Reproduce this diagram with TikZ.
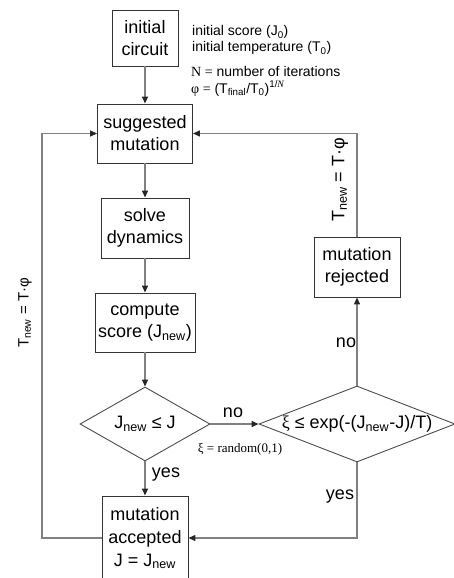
\documentclass[tikz,border=0pt]{standalone}
\usepackage{fontspec}
\setmainfont{Liberation Serif}
\setsansfont{Liberation Sans}
\usetikzlibrary{arrows.meta,shapes.geometric}

\begin{document}
\begin{tikzpicture}[x=1pt,y=-1pt,>={Triangle[length=7pt,width=6pt,color=black!85]},
  box/.style={draw=black!80,line width=0.9pt,rectangle,align=center,inner sep=0pt,font=\sffamily\fontsize{18}{22}\selectfont},
  choice/.style={draw=black!70,line width=0.9pt,diamond,inner sep=0pt,font=\sffamily\fontsize{18}{22}\selectfont},
  link/.style={draw=black!50,line width=1.3pt},
  lbl/.style={font=\sffamily\fontsize{18}{22}\selectfont,inner sep=0pt},
  note/.style={font=\sffamily\fontsize{14}{16}\selectfont,anchor=base west,inner sep=0pt}]
\useasboundingbox (0,0) rectangle (454,578);
\clip (0,0) rectangle (454,578);
\node[box,minimum width=66pt,minimum height=56pt] (init) at (145,38) {initial\\circuit};
\node[box,minimum width=95pt,minimum height=59pt] (sugg) at (145,133.5) {suggested\\mutation};
\node[box,minimum width=88pt,minimum height=60pt] (solve) at (145,228) {solve\\dynamics};
\node[box,minimum width=100pt,minimum height=59pt] (comp) at (145,322.5) {compute\\score (J\textsubscript{new})};
\node[choice,minimum width=130pt,minimum height=74pt,aspect=1.76] (dec1) at (145,424) {J\textsubscript{new} ≤ J};
\node[choice,minimum width=196pt,minimum height=76pt,aspect=2.6] (dec2) at (357,424) {{\rmfamily ξ} ≤ exp(-(J\textsubscript{new}-J)/T)};
\node[box,minimum width=86pt,minimum height=60pt] (rej) at (357,267) {mutation\\rejected};
\node[box,minimum width=86pt,minimum height=84pt,font=\sffamily\fontsize{18}{23}\selectfont] (acc) at (145,538) {mutation\\accepted\\J = J\textsubscript{new}};
\node[note] (n1) at (192,36) {initial score (J\textsubscript{0})};
\node[note] (n2) at (192,52) {initial temperature (T\textsubscript{0})};
\node[note] (n3) at (191,76) {{\rmfamily N =} number of iterations};
\node[note] (n4) at (191,93) {{\rmfamily φ =} (T\textsubscript{final}/T\textsubscript{0})\textsuperscript{1/{\rmfamily\itshape N}}};
\node[lbl] (no1) at (233,413) {no};
\node[lbl] (yes1) at (166,475) {yes};
\node[lbl] (no2) at (346,343) {no};
\node[lbl] (yes2) at (340,497) {yes};
\node[font=\rmfamily\fontsize{13}{15}\selectfont,inner sep=0pt] (rnd) at (240,449) {ξ = random(0,1)};
\node[lbl,rotate=90,font=\sffamily\fontsize{15}{18}\selectfont] (tleft) at (25,313) {T\textsubscript{new} = T·φ};
\node[lbl,rotate=90] (tright) at (340,180) {T\textsubscript{new} = T·φ};
\coordinate (loopL) at (42,538);
\draw[link,->] (init) -- (sugg);
\draw[link,->] (sugg) -- (solve);
\draw[link,->] (solve) -- (comp);
\draw[link,->] (comp) -- (dec1);
\draw[link,->] (dec1) -- (acc);
\draw[link,->] (dec1) -- (dec2);
\draw[link,->] (dec2) -- (rej);
\draw[link,->] (rej.north) |- (sugg.east);
\draw[link,->] (dec2.south) |- (acc.east);
\draw[link,->] (acc.west) -- (loopL) |- (sugg.west);
\end{tikzpicture}
\end{document}
